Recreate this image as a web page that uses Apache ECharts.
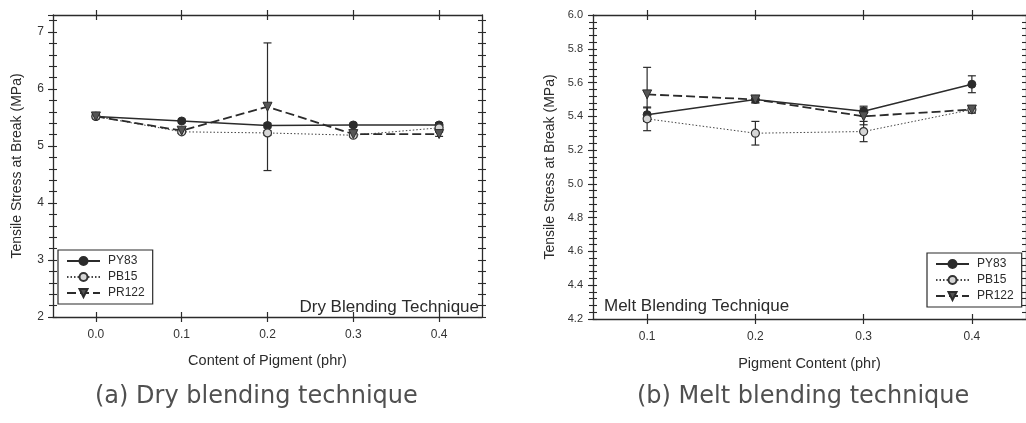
<!DOCTYPE html>
<html><head><meta charset="utf-8">
<script src="https://cdn.jsdelivr.net/npm/echarts@6/dist/echarts.min.js"></script>
<style>html,body{margin:0;padding:0;background:#fff}#c{width:1026px;height:423px}</style>
</head><body><div id="c"></div>
<script>
// ---------- data ----------
const seriesNames = ['PY83', 'PB15', 'PR122'];

// (a) Dry blending technique
const dryCategories = ['0.0', '0.1', '0.2', '0.3', '0.4'];
const dryPY83      = [5.52, 5.44, 5.36, 5.37, 5.37];
const dryPY83Err   = [0.03, 0.03, 0.04, 0.03, 0.04];
const dryPB15      = [5.52, 5.25, 5.23, 5.19, 5.32];
const dryPB15Err   = [0.03, 0.03, 0.04, 0.03, 0.07];
const dryPR122     = [5.52, 5.27, 5.69, 5.21, 5.21];
const dryPR122Err  = [0.04, 0.04, 1.12, 0.04, 0.04];
const dryYTicks    = [2, 3, 4, 5, 6, 7];

// (b) Melt blending technique
const meltCategories = ['0.1', '0.2', '0.3', '0.4'];
const meltPY83      = [5.41, 5.50, 5.43, 5.59];
const meltPY83Err   = [0.04, 0.02, 0.03, 0.05];
const meltPB15      = [5.385, 5.30, 5.31, 5.44];
const meltPB15Err   = [0.07, 0.07, 0.06, 0.02];
const meltPR122     = [5.53, 5.50, 5.40, 5.44];
const meltPR122Err  = [0.16, 0.02, 0.05, 0.02];
const meltYTicks    = [4.2, 4.4, 4.6, 4.8, 5.0, 5.2, 5.4, 5.6, 5.8, 6.0];

// ---------- helpers ----------
const INK = '#2b2b2b';
const FONT = 'Liberation Sans, Arial, sans-serif';

function fineTicks(lo, hi, step) {
  const out = [];
  const n = Math.round((hi - lo) / step);
  for (let i = 0; i <= n; i++) out.push(+(lo + i * step).toFixed(4));
  return out;
}

function makeXAxes(gridIndex, cats, name, nameGap, margin) {
  const base = {
    gridIndex, type: 'category', data: cats, boundaryGap: true,
    splitLine: { show: false }
  };
  return [
    Object.assign({}, base, {
      position: 'bottom', name, nameLocation: 'middle', nameGap,
      nameTextStyle: { fontFamily: FONT, fontSize: 14.5, color: INK },
      axisLine: { show: true, lineStyle: { color: INK, width: 1.3 } },
      axisTick: { show: true, alignWithLabel: true, inside: false, length: 5, lineStyle: { color: INK, width: 1.2 } },
      axisLabel: { show: true, margin, fontFamily: FONT, fontSize: 12, color: '#333' }
    }),
    Object.assign({}, base, {
      position: 'bottom',
      axisLine: { show: false },
      axisTick: { show: true, alignWithLabel: true, inside: true, length: 5, lineStyle: { color: INK, width: 1.2 } },
      axisLabel: { show: false }
    }),
    Object.assign({}, base, {
      position: 'top',
      axisLine: { show: true, lineStyle: { color: INK, width: 1.3 } },
      axisTick: { show: true, alignWithLabel: true, inside: false, length: 5, lineStyle: { color: INK, width: 1.2 } },
      axisLabel: { show: false }
    }),
    Object.assign({}, base, {
      position: 'top',
      axisLine: { show: false },
      axisTick: { show: true, alignWithLabel: true, inside: true, length: 5, lineStyle: { color: INK, width: 1.2 } },
      axisLabel: { show: false }
    })
  ];
}

function makeYAxes(gridIndex, min, max, interval, minorStep, labelFmt, name, nameGap, margin, labelSize) {
  const base = { gridIndex, type: 'value', min, max, interval, splitLine: { show: false } };
  const fine = fineTicks(min, max, minorStep);
  const tickStyle = { color: INK, width: 1.1 };
  return [
    Object.assign({}, base, {
      position: 'left', name, nameLocation: 'middle', nameGap,
      nameTextStyle: { fontFamily: FONT, fontSize: 14, color: INK },
      axisLine: { show: true, lineStyle: { color: INK, width: 1.3 } },
      axisTick: { show: true, inside: false, length: 5, lineStyle: tickStyle },
      axisLabel: { show: true, margin, fontFamily: FONT, fontSize: labelSize, color: '#333', formatter: labelFmt }
    }),
    Object.assign({}, base, {
      position: 'left',
      axisLine: { show: false },
      axisTick: { show: true, inside: false, length: 4, customValues: fine, lineStyle: tickStyle },
      axisLabel: { show: false }
    }),
    Object.assign({}, base, {
      position: 'left',
      axisLine: { show: false },
      axisTick: { show: true, inside: true, length: 4, customValues: fine, lineStyle: tickStyle },
      axisLabel: { show: false }
    }),
    Object.assign({}, base, {
      position: 'right',
      axisLine: { show: true, lineStyle: { color: INK, width: 1.3 } },
      axisTick: { show: true, inside: false, length: 4, customValues: fine, lineStyle: tickStyle },
      axisLabel: { show: false }
    }),
    Object.assign({}, base, {
      position: 'right',
      axisLine: { show: false },
      axisTick: { show: true, inside: true, length: 4, customValues: fine, lineStyle: tickStyle },
      axisLabel: { show: false }
    })
  ];
}

function errorData(vals, errs) {
  return vals.map((v, i) => [i, v - errs[i], v + errs[i]]);
}

function errorSeries(xi, yi, vals, errs) {
  return {
    type: 'custom', xAxisIndex: xi, yAxisIndex: yi, z: 1, silent: true,
    data: errorData(vals, errs),
    encode: { x: 0, y: [1, 2] },
    renderItem: function (params, api) {
      const x = api.value(0);
      const lo = api.coord([x, api.value(1)]);
      const hi = api.coord([x, api.value(2)]);
      const hw = 4;
      const st = { stroke: INK, lineWidth: 1.2, fill: null };
      return {
        type: 'group',
        children: [
          { type: 'line', shape: { x1: lo[0], y1: lo[1], x2: hi[0], y2: hi[1] }, style: st },
          { type: 'line', shape: { x1: lo[0] - hw, y1: lo[1], x2: lo[0] + hw, y2: lo[1] }, style: st },
          { type: 'line', shape: { x1: hi[0] - hw, y1: hi[1], x2: hi[0] + hw, y2: hi[1] }, style: st }
        ]
      };
    }
  };
}

const styles = {
  PY83:  { lineStyle: { color: INK, width: 1.5, type: 'solid' }, symbol: 'circle', symbolSize: 8,
           itemStyle: { color: INK, borderColor: INK, borderWidth: 1 } },
  PB15:  { lineStyle: { color: '#444', width: 1, type: [1.5, 2] }, symbol: 'circle', symbolSize: 8,
           itemStyle: { color: '#d6d6d6', borderColor: '#333', borderWidth: 1.2 } },
  PR122: { lineStyle: { color: INK, width: 1.8, type: [9, 4] }, symbol: 'triangle', symbolRotate: 180, symbolSize: 9,
           itemStyle: { color: '#555', borderColor: INK, borderWidth: 1 } }
};

function lineSeries(name, xi, yi, vals) {
  const s = styles[name];
  return {
    name, type: 'line', xAxisIndex: xi, yAxisIndex: yi, z: 3,
    data: vals, symbol: s.symbol, symbolRotate: s.symbolRotate || 0, symbolSize: s.symbolSize,
    lineStyle: s.lineStyle, itemStyle: s.itemStyle, animation: false,
    emphasis: { disabled: true }
  };
}

function legendBox(left, top) {
  return {
    data: seriesNames, orient: 'vertical', left, top,
    itemWidth: 33, itemHeight: 10, itemGap: 4,
    padding: [5, 8, 5, 8],
    borderColor: INK, borderWidth: 1.2, backgroundColor: '#fff',
    selectedMode: false,
    textStyle: { fontFamily: FONT, fontSize: 12, color: INK, padding: [0, 0, 0, 3] }
  };
}

// ---------- option ----------
const xAxes = [].concat(
  makeXAxes(0, dryCategories, 'Content of Pigment (phr)', 36, 12),
  makeXAxes(1, meltCategories, 'Pigment Content (phr)', 37, 12)
);
const yAxes = [].concat(
  makeYAxes(0, 2, 7.3, 1, 0.2, v => (Math.abs(v - Math.round(v)) < 1e-6 && dryYTicks.indexOf(Math.round(v)) >= 0) ? String(Math.round(v)) : '',
            'Tensile Stress at Break (MPa)', 29, 9, 12),
  makeYAxes(1, 4.2, 6.0, 0.2, 0.04, v => {
      const r = Math.round(v * 10) / 10;
      return meltYTicks.some(t => Math.abs(t - r) < 1e-6) ? r.toFixed(1) : '';
    },
            'Tensile Stress at Break (MPa)', 36, 10, 11)
);

const series = [
  errorSeries(0, 0, dryPY83, dryPY83Err),
  errorSeries(0, 0, dryPB15, dryPB15Err),
  errorSeries(0, 0, dryPR122, dryPR122Err),
  lineSeries('PY83', 0, 0, dryPY83),
  lineSeries('PB15', 0, 0, dryPB15),
  lineSeries('PR122', 0, 0, dryPR122),
  errorSeries(4, 5, meltPY83, meltPY83Err),
  errorSeries(4, 5, meltPB15, meltPB15Err),
  errorSeries(4, 5, meltPR122, meltPR122Err),
  lineSeries('PY83', 4, 5, meltPY83),
  lineSeries('PB15', 4, 5, meltPB15),
  lineSeries('PR122', 4, 5, meltPR122)
];

const CAPFONT = '24px "DejaVu Sans", "Liberation Sans", sans-serif';
const option = {
  backgroundColor: '#ffffff',
  animation: false,
  grid: [
    { left: 53, top: 15, width: 429, height: 302 },
    { left: 593, top: 15, width: 435, height: 304 }
  ],
  xAxis: xAxes,
  yAxis: yAxes,
  legend: [legendBox(58, 250), legendBox(927, 253)],
  series,
  graphic: [
    { type: 'text', right: 1026 - 479, top: 299, z: 10,
      style: { text: 'Dry Blending Technique', font: '17px ' + FONT, fill: INK } },
    { type: 'text', left: 604, top: 298, z: 10,
      style: { text: 'Melt Blending Technique', font: '17px ' + FONT, fill: INK } },
    { type: 'text', left: 95, top: 385, z: 10,
      style: { text: '(a) Dry blending technique', font: CAPFONT, fill: '#505050' } },
    { type: 'text', left: 637, top: 385, z: 10,
      style: { text: '(b) Melt blending technique', font: CAPFONT, fill: '#505050' } }
  ]
};

const chart = echarts.init(document.getElementById('c'), null, { renderer: 'canvas' });
chart.setOption(option);
</script>
</body></html>
